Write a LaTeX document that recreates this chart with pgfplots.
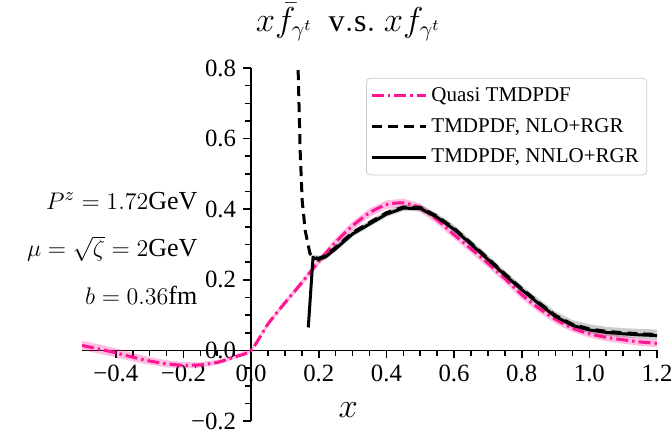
\documentclass[border=0pt]{standalone}
\usepackage{fontspec}
\setmainfont{Liberation Serif}
\usepackage{pgfplots}
\pgfplotsset{compat=1.18}
\definecolor{qpink}{RGB}{255,20,147}

\begin{document}
\begin{tikzpicture}
\begin{axis}[
  scale only axis, width=287.5pt, height=176.5pt,
  xmin=-0.5, xmax=1.2, ymin=-0.2, ymax=0.8,
  axis lines=middle, axis line style={-, line width=0.7pt},
  hide obscured x ticks=false, hide obscured y ticks=false,
  no markers,
  xtick={-0.4,-0.2,0,0.2,0.4,0.6,0.8,1.0,1.2},
  xticklabels={−0.4,−0.2,0.0,0.2,0.4,0.6,0.8,1.0,1.2},
  ytick={-0.2,0,0.2,0.4,0.6,0.8},
  yticklabels={−0.2,0.0,0.2,0.4,0.6,0.8},
  minor x tick num=3, minor y tick num=3,
  tick align=outside,
  major tick length=4pt,
  tick style={black, line width=0.8pt},
  tick label style={font=\rmfamily\fontsize{12.4}{14}\selectfont},
  legend style={at={(0.983,0.972)}, anchor=north east, draw=black!20,
    rounded corners=2pt, font=\fontsize{10.5}{12}\selectfont,
    cells={anchor=west}, row sep=3pt, inner xsep=2pt, inner ysep=2.5pt},
  legend image code/.code={\draw[#1] (0pt,0pt) -- (27pt,0pt);},
]
% uncertainty band of the quasi TMDPDF (upper edge, then lower edge back)
\addplot[draw=none, fill=qpink, fill opacity=0.28, forget plot] coordinates {
(-0.5,0.027)(-0.45,0.017)(-0.4,0.006)(-0.35,-0.007)(-0.3,-0.019)(-0.25,-0.028)
(-0.2,-0.033)(-0.15,-0.033)(-0.1,-0.027)(-0.05,-0.013)(0,0.005)(0.05,0.082)
(0.1,0.143)(0.15,0.201)(0.2,0.262)(0.25,0.318)(0.3,0.365)(0.35,0.402)(0.4,0.425)
(0.45,0.430)(0.5,0.416)(0.55,0.382)(0.6,0.340)(0.65,0.300)(0.7,0.259)(0.75,0.216)
(0.8,0.170)(0.85,0.132)(0.9,0.099)(0.95,0.074)(1.0,0.058)(1.05,0.048)(1.1,0.041)
(1.15,0.035)(1.2,0.031)
(1.2,0.009)(1.15,0.013)(1.1,0.019)(1.05,0.026)(1.0,0.036)(0.95,0.052)(0.9,0.076)
(0.85,0.108)(0.8,0.146)(0.75,0.192)(0.7,0.235)(0.65,0.276)(0.6,0.316)(0.55,0.358)
(0.5,0.392)(0.45,0.406)(0.4,0.401)(0.35,0.378)(0.3,0.341)(0.25,0.296)(0.2,0.242)
(0.15,0.183)(0.1,0.127)(0.05,0.068)(0,-0.005)(-0.05,-0.025)(-0.1,-0.041)
(-0.15,-0.049)(-0.2,-0.051)(-0.25,-0.048)(-0.3,-0.041)(-0.35,-0.031)(-0.4,-0.020)
(-0.45,-0.009)(-0.5,0.001)} -- cycle;
% uncertainty band of the NNLO TMDPDF
\addplot[draw=none, fill=black, fill opacity=0.2, forget plot] coordinates {
(0.183,0.272)(0.2,0.268)(0.22,0.275)(0.25,0.298)(0.3,0.340)(0.35,0.368)(0.4,0.396)
(0.45,0.413)(0.5,0.413)(0.55,0.388)(0.6,0.355)(0.65,0.313)(0.7,0.270)(0.75,0.226)
(0.8,0.184)(0.85,0.146)(0.9,0.110)(0.95,0.086)(1.0,0.074)(1.05,0.067)(1.1,0.063)
(1.15,0.061)(1.2,0.059)
(1.2,0.031)(1.15,0.034)(1.1,0.037)(1.05,0.041)(1.0,0.049)(0.95,0.062)(0.9,0.088)
(0.85,0.125)(0.8,0.164)(0.75,0.206)(0.7,0.250)(0.65,0.293)(0.6,0.335)(0.55,0.369)
(0.5,0.394)(0.45,0.395)(0.4,0.378)(0.35,0.350)(0.3,0.322)(0.25,0.280)(0.22,0.257)
(0.2,0.250)(0.183,0.255)} -- cycle;

\addplot[qpink, line width=1.5pt, smooth, tension=0.4,
  dash pattern=on 6pt off 2pt on 1.2pt off 2pt] table {
x y
-0.50 0.014
-0.45 0.004
-0.40 -0.007
-0.35 -0.019
-0.30 -0.030
-0.25 -0.038
-0.20 -0.042
-0.15 -0.041
-0.10 -0.034
-0.05 -0.019
0.00 0.000
0.05 0.075
0.10 0.135
0.15 0.192
0.20 0.252
0.25 0.307
0.30 0.353
0.35 0.390
0.40 0.413
0.45 0.418
0.50 0.404
0.55 0.370
0.60 0.328
0.65 0.288
0.70 0.247
0.75 0.204
0.80 0.158
0.85 0.120
0.90 0.088
0.95 0.063
1.00 0.047
1.05 0.037
1.10 0.030
1.15 0.024
1.20 0.020
};
\addlegendentry{Quasi TMDPDF}
\addplot[black, line width=1.5pt, dash pattern=on 5pt off 3pt] table {
x y
0.139 0.794
0.142 0.680
0.145 0.565
0.151 0.424
0.160 0.339
0.174 0.274
0.183 0.264
0.20 0.261
0.22 0.268
0.25 0.292
0.30 0.334
0.35 0.362
0.40 0.390
0.45 0.406
0.50 0.405
0.55 0.380
0.60 0.346
0.65 0.304
0.70 0.261
0.75 0.217
0.80 0.175
0.85 0.136
0.90 0.099
0.95 0.074
1.00 0.061
1.05 0.054
1.10 0.050
1.15 0.047
1.20 0.045
};
\addlegendentry{TMDPDF, NLO+RGR}
\addplot[black, line width=1.5pt] table {
x y
0.169 0.065
0.183 0.263
0.20 0.258
0.22 0.265
0.25 0.288
0.30 0.330
0.35 0.358
0.40 0.386
0.45 0.403
0.50 0.402
0.55 0.377
0.60 0.343
0.65 0.301
0.70 0.258
0.75 0.214
0.80 0.172
0.85 0.133
0.90 0.096
0.95 0.071
1.00 0.058
1.05 0.051
1.10 0.047
1.15 0.044
1.20 0.042
};
\addlegendentry{TMDPDF, NNLO+RGR}

% anchor points for the texts, which are set after the axis (outside its clip)
\coordinate (ttl) at (rel axis cs:0.463,1.13);
\coordinate (xl) at (axis cs:0.287,-0.168);
\coordinate (t1) at (axis cs:-0.138,0.424);
\coordinate (t2) at (axis cs:-0.138,0.288);
\coordinate (t3) at (axis cs:-0.138,0.155);
\end{axis}
\node[font=\fontsize{16}{18}\selectfont] at (ttl)
  {$x\bar{f}_{\gamma^t}\ \ \mathrm{v.s.}\ x f_{\gamma^t}$};
\node[font=\fontsize{17}{19}\selectfont] at (xl) {$x$};
\node[anchor=east, font=\fontsize{13}{15}\selectfont] at (t1) {$P^z = 1.72\mathrm{GeV}$};
\node[anchor=east, font=\fontsize{13}{15}\selectfont] at (t2) {$\mu = \sqrt{\zeta} = 2\mathrm{GeV}$};
\node[anchor=east, font=\fontsize{13}{15}\selectfont] at (t3) {$b = 0.36\mathrm{fm}$};
\pgfresetboundingbox
\useasboundingbox (-41pt,-9pt) rectangle (295pt,210.5pt);
\end{tikzpicture}
\end{document}
